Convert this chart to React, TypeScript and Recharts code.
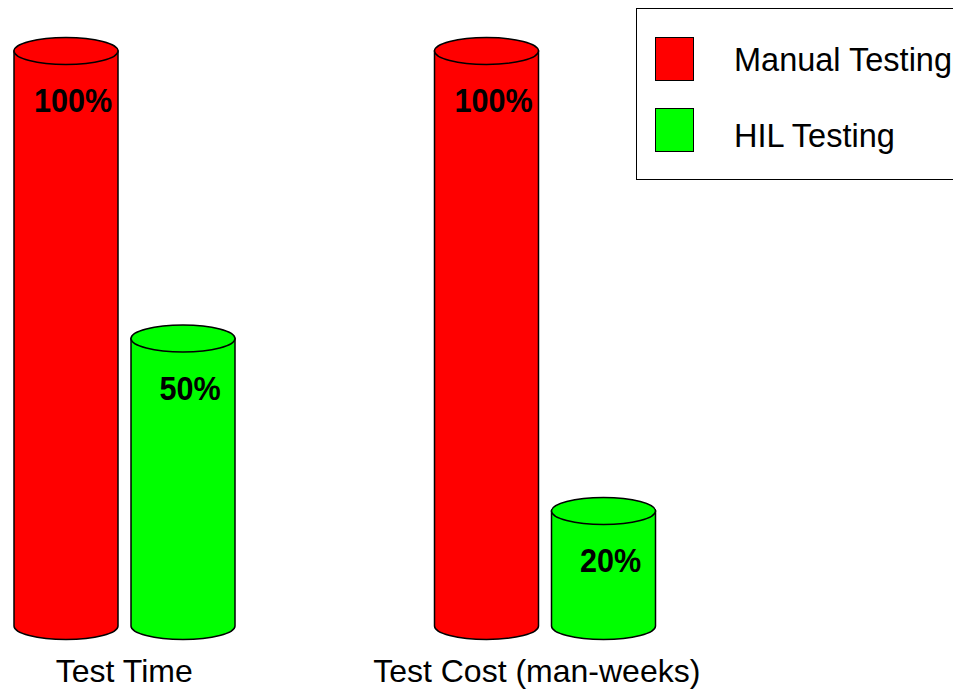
import { BarChart, Bar, XAxis, YAxis, Legend, LabelList } from 'recharts'

const categories = ['Test Time', 'Test Cost (man-weeks)']
const manualValues = [100, 100]
const hilValues = [50, 20]
const seriesNames = ['Manual Testing', 'HIL Testing']

const RED = '#ff0000'
const GREEN = '#00ff00'
const FONT = '"Liberation Sans", Arial, sans-serif'

const data = categories.map((name, i) => ({ name, manual: manualValues[i], hil: hilValues[i] }))

function Cylinder(props: any) {
  const { x, y, width, height, fill } = props
  if (!width || height == null) return null
  const rx = width / 2
  const ry = 13.5
  const bottom = y + height
  const d = `M${x},${y} L${x},${bottom} A${rx},${ry} 0 0 0 ${x + width},${bottom} L${x + width},${y} Z`
  return (
    <g>
      <path d={d} fill={fill} stroke="#000" strokeWidth={1.5} />
      <ellipse cx={x + rx} cy={y} rx={rx} ry={ry} fill={fill} stroke="#000" strokeWidth={1.5} />
    </g>
  )
}

// labels in the original are a bit narrow and tall
function Pct(props: any) {
  const { x, y, width, value } = props
  return (
    <text transform={`translate(${x + width / 2 + 7},${y + 61}) scale(0.9,1)`} textAnchor="middle" fontFamily={FONT} fontSize={34} fontWeight="bold" fill="#000">
      {`${value}%`}
    </text>
  )
}

function CatTick({ x, y, payload, index }: any) {
  const dx = index === 1 ? -8 : 0
  return (
    <text x={x + dx} y={y + 56} textAnchor="middle" fontFamily={FONT} fontSize={32} fill="#000">
      {payload.value}
    </text>
  )
}

function LegendBox() {
  const colors = [RED, GREEN]
  return (
    <div style={{ position: 'relative', width: 330, height: 172, border: '1.5px solid #000', boxSizing: 'border-box', background: '#fff', fontFamily: FONT }}>
      {seriesNames.map((n, i) => (
        <div key={n}>
          <div style={{ position: 'absolute', left: 18, top: 28 + i * 71, width: 39, height: 44, background: colors[i], border: '1px solid #000', boxSizing: 'border-box' }} />
          <div style={{ position: 'absolute', left: 97, top: 31 + i * 76, fontSize: 32.5, lineHeight: '40px', color: '#000', whiteSpace: 'nowrap' }}>{n}</div>
        </div>
      ))}
    </div>
  )
}

export default function App() {
  return (
    <div style={{ position: 'fixed', left: 0, top: 0, width: 953, height: 692, overflow: 'hidden', background: '#fff' }}>
      <div style={{ position: 'absolute', left: -86, top: 0 }}>
        <BarChart width={1039} height={692} data={data} margin={{ top: 51, right: 198, left: 0, bottom: 0 }} barGap={13}>
          <XAxis dataKey="name" axisLine={false} tickLine={false} tickSize={0} tickMargin={0} height={66} interval={0} tick={<CatTick />} />
          <YAxis hide domain={[0, 100]} />
          <Legend layout="horizontal" verticalAlign="middle" align="center" wrapperStyle={{ left: 722, top: 8, width: 330, height: 172 }} content={() => <LegendBox />} />
          <Bar dataKey="manual" name={seriesNames[0]} fill={RED} barSize={104} shape={<Cylinder />} isAnimationActive={false}>
            <LabelList dataKey="manual" content={<Pct />} />
          </Bar>
          <Bar dataKey="hil" name={seriesNames[1]} fill={GREEN} barSize={104} shape={<Cylinder />} isAnimationActive={false}>
            <LabelList dataKey="hil" content={<Pct />} />
          </Bar>
        </BarChart>
      </div>
    </div>
  )
}
